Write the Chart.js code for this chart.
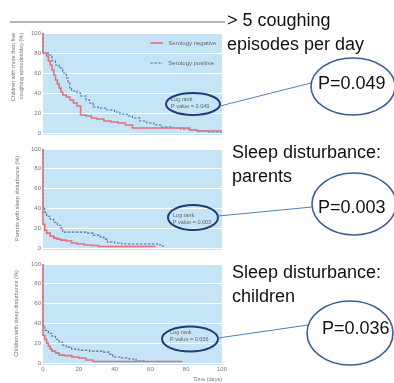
<!DOCTYPE html>
<html>
<head>
<meta charset="utf-8">
<script src="https://cdn.jsdelivr.net/npm/chart.js@4.4.1/dist/chart.umd.min.js"></script>
<style>
  body { margin: 0; background: #fff; }
  #wrap { position: relative; width: 394px; height: 383px; overflow: hidden; }
  #wrap canvas { position: absolute; left: 0; }
  #wrap svg { position: absolute; left: 0; top: 0; pointer-events: none; }
  .note { position: absolute; font-family: "Liberation Sans", Arial, sans-serif; font-size: 18px; line-height: 24px; color: #111; white-space: nowrap; }
</style>
</head>
<body>
<div id="wrap">
  <canvas id="cough" width="394" height="140" style="top:0;width:394px;height:140px"></canvas>
  <canvas id="parents" width="394" height="115" style="top:140px;width:394px;height:115px"></canvas>
  <canvas id="children" width="394" height="128" style="top:255px;width:394px;height:128px"></canvas>

  <svg width="394" height="383">
    <line x1="10" y1="22" x2="225" y2="22" stroke="#9a9a9a" stroke-width="1.5"/>
    <!-- small ellipses around log rank boxes -->
    <ellipse cx="193" cy="104" rx="27" ry="11" fill="none" stroke="#1f3c78" stroke-width="2"/>
    <ellipse cx="193" cy="217.5" rx="25" ry="12.5" fill="none" stroke="#1f3c78" stroke-width="2"/>
    <ellipse cx="190" cy="339" rx="28" ry="12.5" fill="none" stroke="#1f3c78" stroke-width="2"/>
    <!-- connectors -->
    <line x1="220" y1="106" x2="311" y2="83" stroke="#4f81bd" stroke-width="1"/>
    <line x1="218" y1="216" x2="312" y2="207" stroke="#4f81bd" stroke-width="1"/>
    <line x1="218" y1="338" x2="308" y2="325" stroke="#4f81bd" stroke-width="1"/>
    <!-- big ellipses -->
    <ellipse cx="353" cy="86.5" rx="42" ry="28.5" fill="none" stroke="#3b5f95" stroke-width="1.6"/>
    <ellipse cx="354" cy="204" rx="42" ry="31" fill="none" stroke="#3b5f95" stroke-width="1.6"/>
    <ellipse cx="350" cy="333" rx="43" ry="32" fill="none" stroke="#3b5f95" stroke-width="1.6"/>
  </svg>

  <div class="note" style="left:227px;top:8px">&gt; 5 coughing<br>episodes per day</div>
  <div class="note" style="left:232px;top:140px">Sleep disturbance:<br>parents</div>
  <div class="note" style="left:232px;top:260px">Sleep disturbance:<br>children</div>
  <div class="note" style="left:318px;top:71px">P=0.049</div>
  <div class="note" style="left:318px;top:195px">P=0.003</div>
  <div class="note" style="left:322px;top:316px">P=0.036</div>
</div>

<script>
// -------- Axis ticks --------
const timeTicks = [0, 20, 40, 60, 80, 100];
const pctTicks = [0, 20, 40, 60, 80, 100];

// -------- > 5 coughing episodes per day --------
const coughNegDays = [0, 0, 2, 3, 4, 5, 6, 7, 8, 9, 10, 11, 13, 15, 17, 19, 21, 24, 27, 30, 34, 38, 42, 46, 50, 82, 86, 100];
const coughNegPct  = [100, 80, 77, 72, 68, 63, 58, 53, 49, 45, 41, 38, 36, 33, 30, 27, 18, 17, 15, 14, 12, 11, 10, 8, 5, 3, 2, 2];
const coughPosDays = [0, 0, 3, 5, 7, 9, 11, 13, 14, 15, 16, 19, 21, 24, 26, 28, 31, 35, 40, 43, 47, 50, 54, 58, 62, 66, 72, 77, 82, 86, 92, 100];
const coughPosPct  = [100, 80, 78, 72, 68, 65, 60, 55, 50, 45, 42, 40, 37, 33, 30, 26, 25, 23, 21, 19, 17, 15, 12, 10, 8, 6, 5, 4, 3, 2, 1, 1];

// -------- Sleep disturbance: parents --------
const parentNegDays = [0, 0, 1, 2, 4, 6, 8, 10, 13, 16, 19, 23, 27, 31, 63];
const parentNegPct  = [100, 24, 18, 15, 12, 10, 9, 8, 7, 5, 4, 3, 2.5, 1.5, 1.5];
const parentPosDays = [0, 0, 1, 2, 4, 6, 8, 10, 11, 12, 25, 28, 32, 34, 36, 40, 44, 64, 67];
const parentPosPct  = [100, 40, 36, 32, 29, 26, 23, 20, 17, 16, 15, 13, 11, 9, 6, 5, 4, 3, 1];

// -------- Sleep disturbance: children --------
const childNegDays = [0, 0, 1, 2, 3, 4, 5, 7, 9, 12, 16, 20, 24, 28, 78];
const childNegPct  = [100, 28, 24, 20, 17, 14, 12, 10, 8, 7.5, 6, 5, 3, 1.5, 1.5];
const childPosDays = [0, 0, 1, 3, 5, 7, 9, 11, 13, 16, 20, 26, 33, 37, 39, 44, 48, 52, 57];
const childPosPct  = [100, 38, 33, 30, 27, 24, 21, 18, 16, 14, 13, 12, 11, 9, 6, 5, 4, 2, 1.5];

const seriesLabels = ['Serology negative', 'Serology positive'];
const pValues = ['0.049', '0.003', '0.036'];

const RED = '#e0717f';
const BLUE = '#4d6fa3';
const GREY = '#777';
const SMALL_FONT = '"Liberation Sans", Arial, sans-serif';

function toPoints(days, pct) {
    return days.map((d, i) => ({ x: d, y: pct[i] }));
}

// paints the blue panel, the inline legend and the log rank note
const panelPaint = {
    id: 'panelPaint',
    beforeDraw(chart, args, opts) {
        const { ctx, chartArea: a } = chart;
        ctx.save();
        ctx.fillStyle = '#c5e5f6';
        ctx.fillRect(a.left, a.top, a.right - a.left, a.bottom - a.top + 2);
        ctx.restore();
    },
    afterDraw(chart, args, opts) {
        const { ctx, scales: { x, y } } = chart;
        ctx.save();
        ctx.font = '6px ' + SMALL_FONT;
        ctx.fillStyle = '#666';
        ctx.textBaseline = 'middle';
        if (opts.legend) {
            chart.data.datasets.forEach((ds, i) => {
                const yy = y.getPixelForValue(opts.legend.pct[i]);
                ctx.strokeStyle = ds.borderColor;
                ctx.lineWidth = ds.borderWidth;
                ctx.setLineDash(ds.borderDash || []);
                ctx.beginPath();
                ctx.moveTo(x.getPixelForValue(opts.legend.from), yy);
                ctx.lineTo(x.getPixelForValue(opts.legend.to), yy);
                ctx.stroke();
                ctx.fillText(ds.label, x.getPixelForValue(opts.legend.text), yy);
            });
        }
        const lr = opts.logRank;
        ctx.setLineDash([]);
        ctx.font = '5.5px ' + SMALL_FONT;
        ctx.fillText('Log rank', x.getPixelForValue(lr.day), y.getPixelForValue(lr.pct));
        ctx.fillText('P value = ' + lr.p, x.getPixelForValue(lr.day), y.getPixelForValue(lr.pct - 7));
        ctx.restore();
    }
};

function makeChart(id, cfg) {
    const showTime = !!cfg.showTime;
    return new Chart(document.getElementById(id), {
        type: 'line',
        data: {
            datasets: [{
                label: seriesLabels[0],
                data: toPoints(cfg.negDays, cfg.negPct),
                borderColor: RED,
                borderWidth: 1.6,
                stepped: true,
                pointRadius: 0,
                clip: 4
            }, {
                label: seriesLabels[1],
                data: toPoints(cfg.posDays, cfg.posPct),
                borderColor: BLUE,
                borderWidth: 1.1,
                borderDash: [2.5, 1.5],
                stepped: true,
                pointRadius: 0,
                clip: 4
            }]
        },
        options: {
            responsive: false,
            animation: false,
            events: [],
            layout: { padding: { left: cfg.left, top: cfg.top, right: 172, bottom: cfg.bottom } },
            scales: {
                x: {
                    type: 'linear',
                    min: 0,
                    max: 100,
                    display: showTime,
                    afterBuildTicks: s => { s.ticks = timeTicks.map(v => ({ value: v })); },
                    afterFit: s => { if (showTime) s.height = 20; },
                    grid: { display: false, drawTicks: false },
                    border: { display: false },
                    ticks: { color: GREY, font: { size: 6, family: SMALL_FONT }, padding: 3, maxRotation: 0 },
                    title: {
                        display: showTime,
                        text: 'Time (days)',
                        align: 'end',
                        color: GREY,
                        font: { size: 5.5, family: SMALL_FONT },
                        padding: { top: 1, bottom: 0 }
                    }
                },
                y: {
                    min: 0,
                    max: 100,
                    afterBuildTicks: s => { s.ticks = pctTicks.map(v => ({ value: v })); },
                    afterFit: s => { s.width = 43 - cfg.left; },
                    grid: { color: '#ffffff', lineWidth: 1, drawTicks: false },
                    border: { display: false },
                    ticks: { color: GREY, font: { size: 6, family: SMALL_FONT }, padding: 2 },
                    title: {
                        display: true,
                        text: cfg.yTitle,
                        align: cfg.titleAlign || 'center',
                        color: GREY,
                        font: { size: 5.5, family: SMALL_FONT, lineHeight: 1.5 },
                        padding: { top: 0, bottom: 4 }
                    }
                }
            },
            plugins: {
                legend: { display: false },
                tooltip: { enabled: false },
                panelPaint: { legend: cfg.legend, logRank: cfg.logRank }
            }
        },
        plugins: [panelPaint]
    });
}

makeChart('cough', {
    negDays: coughNegDays, negPct: coughNegPct,
    posDays: coughPosDays, posPct: coughPosPct,
    left: 9, top: 33, bottom: 7,
    yTitle: ['Children with more than five', 'coughing episodes/day (%)'],
    titleAlign: 'end',
    legend: { from: 60, to: 67, text: 70, pct: [90, 70] },
    logRank: { day: 71.5, pct: 34, p: pValues[0] }
});

makeChart('parents', {
    negDays: parentNegDays, negPct: parentNegPct,
    posDays: parentPosDays, posPct: parentPosPct,
    left: 13, top: 9, bottom: 7,
    yTitle: 'Parents with sleep disturbance (%)',
    logRank: { day: 72.5, pct: 33, p: pValues[1] }
});

makeChart('children', {
    negDays: childNegDays, negPct: childNegPct,
    posDays: childPosDays, posPct: childPosPct,
    left: 12, top: 9, bottom: 0,
    showTime: true,
    yTitle: 'Children with sleep disturbance (%)',
    logRank: { day: 71, pct: 31, p: pValues[2] }
});
</script>
</body>
</html>
